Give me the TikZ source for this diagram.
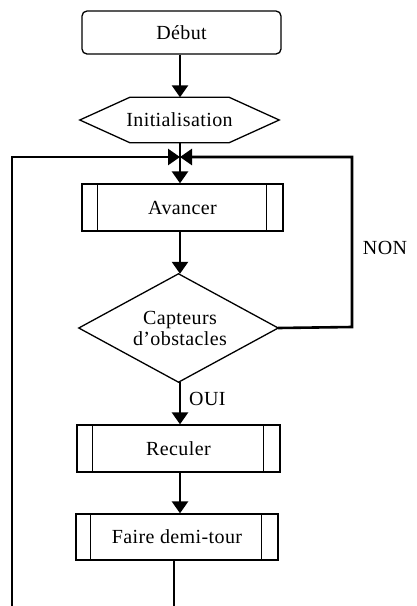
\documentclass[tikz,border=0pt]{standalone}
\usepackage{fontspec}
\setmainfont[LetterSpace=2]{Liberation Serif}
\usetikzlibrary{arrows.meta,calc}
\begin{document}
\begin{tikzpicture}[x=1pt,y=-1pt,
  every node/.style={font=\fontsize{20}{22}\selectfont, inner sep=0pt},
  box/.style={draw, line width=1.3pt},
  flow/.style={line width=2.6pt, -{Triangle[width=16pt,length=12pt]}},
  loopline/.style={line width=2.6pt},
  thinline/.style={line width=1.4pt}]
\useasboundingbox (0,0) rectangle (416,606);

% Début
\node[box, rounded corners=5pt, minimum width=199pt, minimum height=43pt] (debut) at (181.5,32.5) {Début};

% Initialisation (hexagon)
\node[minimum width=199pt, minimum height=45pt] (init) at (179.5,120) {Initialisation};
\draw[line width=1.3pt] (init.west) -- ($(init.north west)+(50,0)$) -- ($(init.north east)+(-50,0)$)
  -- (init.east) -- ($(init.south east)+(-50,0)$) -- ($(init.south west)+(50,0)$) -- cycle;

% Avancer
\node[box, minimum width=201pt, minimum height=47pt] (avancer) at (182.5,207.5) {Avancer};
\draw[line width=1.3pt] ($(avancer.north west)+(16,0)$) -- ($(avancer.south west)+(16,0)$)
  ($(avancer.north east)+(-17,0)$) -- ($(avancer.south east)+(-17,0)$);

% Capteurs (diamond)
\node[minimum width=199pt, minimum height=108pt] (capt) at (178.5,328) {};
\node[align=center] (capttxt) at (180,328) {Capteurs\\[-1pt]d’obstacles};
\draw[line width=1.3pt] (capt.north) -- (capt.east) -- (capt.south) -- (capt.west) -- cycle;

% Reculer
\node[box, minimum width=203pt, minimum height=47pt] (reculer) at (178.5,448.5) {Reculer};
\draw[line width=1.3pt] ($(reculer.north west)+(16,0)$) -- ($(reculer.south west)+(16,0)$)
  ($(reculer.north east)+(-17,0)$) -- ($(reculer.south east)+(-17,0)$);

% Faire demi-tour
\node[box, minimum width=202pt, minimum height=46pt] (faire) at (177,537) {Faire demi-tour};
\draw[line width=1.3pt] ($(faire.north west)+(15,0)$) -- ($(faire.south west)+(15,0)$)
  ($(faire.north east)+(-17,0)$) -- ($(faire.south east)+(-17,0)$);

% Labels
\node (non) at (385,248) {NON};
\node[anchor=west] (oui) at (189,399) {OUI};

% Coordinates
\coordinate (merge) at (180,157);
\coordinate (lb) at (12,606);
\coordinate (lt) at (12,157);
\coordinate (rt) at (352,157);
\coordinate (rb) at (352,327);
\coordinate (fb) at (174,606);

% Connectors
\draw[flow] (debut.south -| merge) -- (init.north -| merge);
\draw[loopline] (init.south -| merge) -- (merge);
\draw[flow] (merge) -- (avancer.north -| merge);
\draw[flow] (avancer.south -| merge) -- (capt.north -| merge);
\draw[flow] (capt.south -| merge) -- (reculer.north -| merge);
\draw[flow] (reculer.south -| merge) -- (faire.north -| merge);
\draw[flow] (lb) -- (lt) -- (merge);
\draw[flow] (capt.east) -- (rb) -- (rt) -- (merge);
\draw[thinline] (faire.south -| fb) -- (fb);
\end{tikzpicture}
\end{document}
